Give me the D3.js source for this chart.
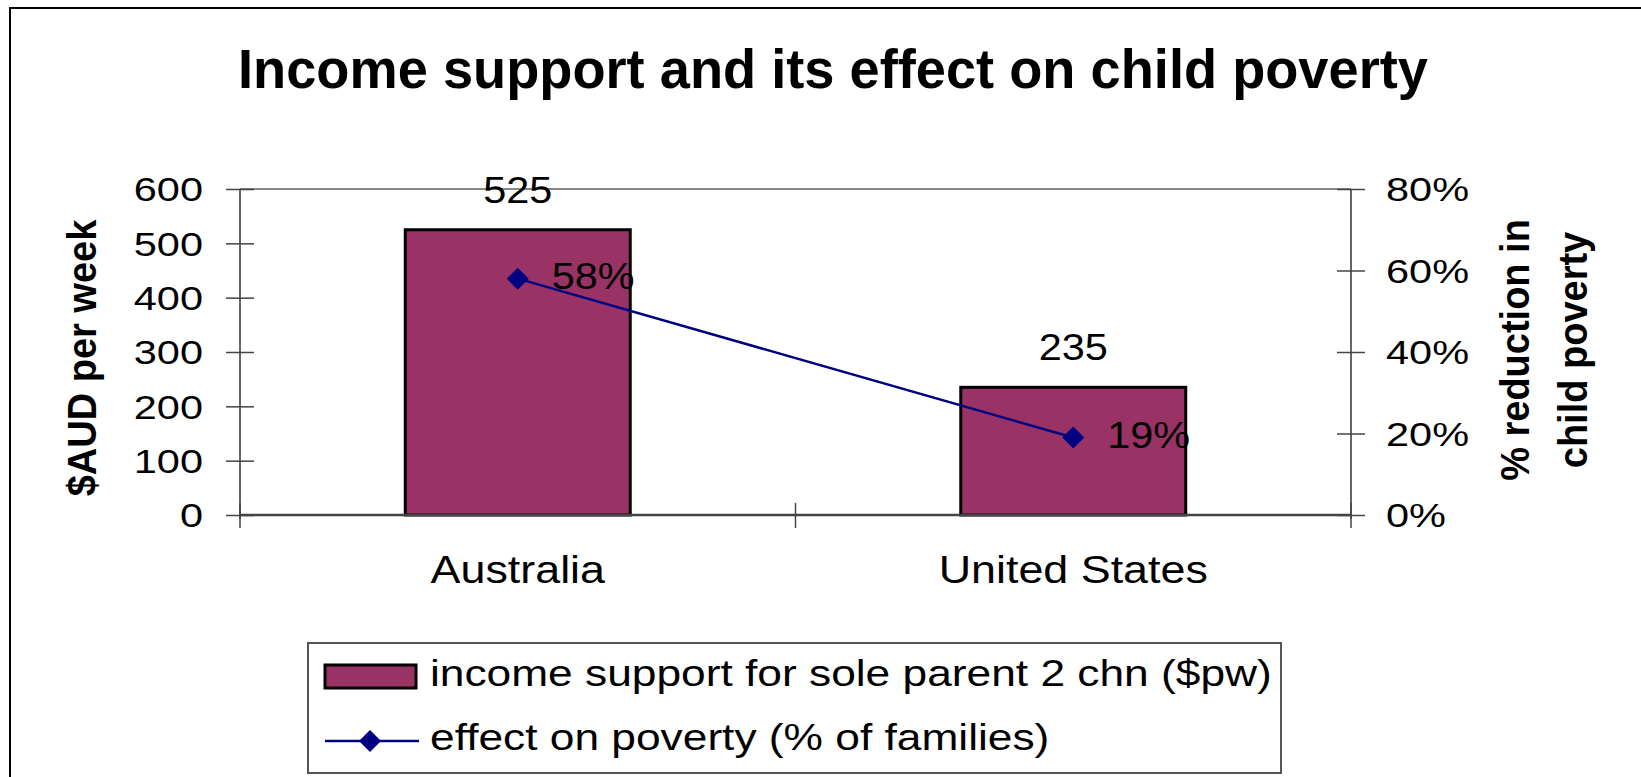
<!DOCTYPE html>
<html>
<head>
<meta charset="utf-8">
<script src="https://cdn.jsdelivr.net/npm/d3@7"></script>
<style>
  html, body { margin: 0; padding: 0; background: #fff; }
  svg { display: block; }
  text { font-family: "Liberation Sans", Arial, sans-serif; fill: #000; }
</style>
</head>
<body>
<svg id="chart" width="1641" height="777"></svg>
<script>
// ---- data ----
const categories = ["Australia", "United States"];
const incomeSupport = [525, 235];          // $AUD per week
const povertyEffect = [0.58, 0.19];        // % reduction in child poverty
const leftTicks = [0, 100, 200, 300, 400, 500, 600];
const rightTicks = [0, 0.2, 0.4, 0.6, 0.8];
const titleText = "Income support and its effect on child poverty";
const leftTitle = "$AUD per week";
const rightTitleLines = ["% reduction in", "child poverty"];
const seriesNames = ["income support for sole parent 2 chn ($pw)", "effect on poverty (% of families)"];

// ---- layout ----
const svg = d3.select("#chart");
const plot = { left: 240, right: 1351, top: 189, bottom: 515 };
const SX = 1.05; // slight horizontal stretch for rotated titles

function stretch(sel, k) {
  sel.each(function () {
    const w = this.getComputedTextLength();
    d3.select(this).attr("textLength", w * k).attr("lengthAdjust", "spacingAndGlyphs");
  });
}

// outer frame
svg.append("rect").attr("x", 10).attr("y", 8).attr("width", 1700).attr("height", 800)
  .attr("fill", "#fff").attr("stroke", "#000").attr("stroke-width", 2);

// title
svg.append("text").attr("x", 833).attr("y", 88).attr("text-anchor", "middle")
  .style("font-weight", "bold").style("font-size", "55px")
  .attr("textLength", 1190).attr("lengthAdjust", "spacingAndGlyphs")
  .text(titleText);

// scales
const x = d3.scaleBand().domain(categories).range([plot.left, plot.right])
  .paddingInner(0.595).paddingOuter(0.2975);
const yL = d3.scaleLinear().domain([0, 600]).range([plot.bottom, plot.top]);
const yR = d3.scaleLinear().domain([0, 0.8]).range([plot.bottom, plot.top]);

const axisColor = "#666";

// plot top border
svg.append("line").attr("x1", plot.left).attr("x2", plot.right)
  .attr("y1", yL(600)).attr("y2", yL(600)).attr("stroke", "#888").attr("stroke-width", 2);

// bars
svg.append("g").selectAll("rect").data(incomeSupport).join("rect")
  .attr("x", (d, i) => x(categories[i]))
  .attr("width", x.bandwidth())
  .attr("y", d => yL(d))
  .attr("height", d => yL(0) - yL(d))
  .attr("fill", "#993366").attr("stroke", "#000").attr("stroke-width", 3);

// left axis
const gL = svg.append("g").attr("transform", `translate(${plot.left},0)`)
  .call(d3.axisLeft(yL).tickValues(leftTicks).tickSizeInner(14).tickSizeOuter(0).tickPadding(23));
gL.select(".domain").attr("stroke", axisColor).attr("stroke-width", 2).attr("d", `M0,${plot.top}V${plot.bottom + 4}`);
gL.selectAll(".tick line").attr("x1", 14).attr("x2", -14).attr("stroke", "#444").attr("stroke-width", 1.5);
gL.selectAll(".tick text").style("font-size", "34px").attr("dy", "0.35em").attr("fill", "#000");
stretch(gL.selectAll(".tick text"), 1.22);

// right axis
const gR = svg.append("g").attr("transform", `translate(${plot.right},0)`)
  .call(d3.axisRight(yR).tickValues(rightTicks).tickFormat(d3.format(".0%")).tickSizeInner(14).tickSizeOuter(0).tickPadding(21));
gR.select(".domain").attr("stroke", axisColor).attr("stroke-width", 2).attr("d", `M0,${plot.top}V${plot.bottom + 4}`);
gR.selectAll(".tick line").attr("x1", -14).attr("x2", 14).attr("stroke", "#444").attr("stroke-width", 1.5);
gR.selectAll(".tick text").style("font-size", "34px").attr("dy", "0.35em").attr("fill", "#000");
stretch(gR.selectAll(".tick text"), 1.22);

// bottom axis
const gB = svg.append("g").attr("transform", `translate(0,${plot.bottom})`)
  .call(d3.axisBottom(x).tickSize(0).tickPadding(68));
gB.select(".domain").attr("stroke", "#444").attr("stroke-width", 2.5).attr("d", `M${plot.left},0H${plot.right}`);
gB.selectAll(".tick text").style("font-size", "38px").attr("dy", "0").attr("fill", "#000");
stretch(gB.selectAll(".tick text"), 1.18);
const bounds = d3.range(categories.length + 1).map(i => x.range()[0] + i * x.step());
gB.selectAll("line.bound").data(bounds).join("line").attr("class", "bound")
  .attr("x1", d => d).attr("x2", d => d).attr("y1", -12).attr("y2", 13)
  .attr("stroke", "#444").attr("stroke-width", 1.5);

// bar value labels
svg.append("g").selectAll("text").data(incomeSupport).join("text")
  .attr("x", (d, i) => x(categories[i]) + x.bandwidth() / 2)
  .attr("y", d => yL(d) - 27)
  .attr("text-anchor", "middle").style("font-size", "37px")
  .text(d => d)
  .call(s => stretch(s, 1.12));

// line series
const cx = (d, i) => x(categories[i]) + x.bandwidth() / 2;
const line = d3.line().x((d, i) => cx(d, i)).y(d => yR(d));
svg.append("path").datum(povertyEffect).attr("d", line)
  .attr("fill", "none").attr("stroke", "#000080").attr("stroke-width", 2.5);
const diamond = d3.symbol().type(d3.symbolSquare).size(242);
svg.append("g").selectAll("path").data(povertyEffect).join("path")
  .attr("d", diamond)
  .attr("transform", (d, i) => `translate(${cx(d, i)},${yR(d)}) rotate(45)`)
  .attr("fill", "#000080");
svg.append("g").selectAll("text").data(povertyEffect).join("text")
  .attr("x", (d, i) => cx(d, i) + 34)
  .attr("y", d => yR(d) + 10)
  .style("font-size", "37px")
  .text(d => d3.format(".0%")(d))
  .call(s => stretch(s, 1.12));

// axis titles (rotated)
const midY = (plot.top + plot.bottom) / 2;
svg.append("text")
  .attr("transform", `translate(96,${midY + 6}) scale(${SX},1) rotate(-90)`)
  .attr("text-anchor", "middle").style("font-weight", "bold").style("font-size", "38px")
  .text(leftTitle);
const rtX = [1529, 1587];
svg.append("g").selectAll("text").data(rightTitleLines).join("text")
  .attr("transform", (d, i) => `translate(${rtX[i]},${midY - 2}) scale(${SX},1) rotate(-90)`)
  .attr("text-anchor", "middle").style("font-weight", "bold").style("font-size", "38px")
  .text(d => d);

// legend
const lg = svg.append("g");
lg.append("rect").attr("x", 308).attr("y", 643).attr("width", 973).attr("height", 130)
  .attr("fill", "#fff").attr("stroke", "#555").attr("stroke-width", 2);
lg.append("rect").attr("x", 325).attr("y", 665).attr("width", 91).attr("height", 23)
  .attr("fill", "#993366").attr("stroke", "#000").attr("stroke-width", 3);
lg.append("line").attr("x1", 325).attr("x2", 419).attr("y1", 741).attr("y2", 741)
  .attr("stroke", "#000080").attr("stroke-width", 2.5);
lg.append("path").attr("d", diamond).attr("transform", "translate(370,741) rotate(45)").attr("fill", "#000080");
lg.selectAll("text.lbl").data(seriesNames).join("text").attr("class", "lbl")
  .attr("x", 430).attr("y", (d, i) => [686, 750][i])
  .style("font-size", "36px").text(d => d)
  .call(s => stretch(s, 1.23));
</script>
</body>
</html>
